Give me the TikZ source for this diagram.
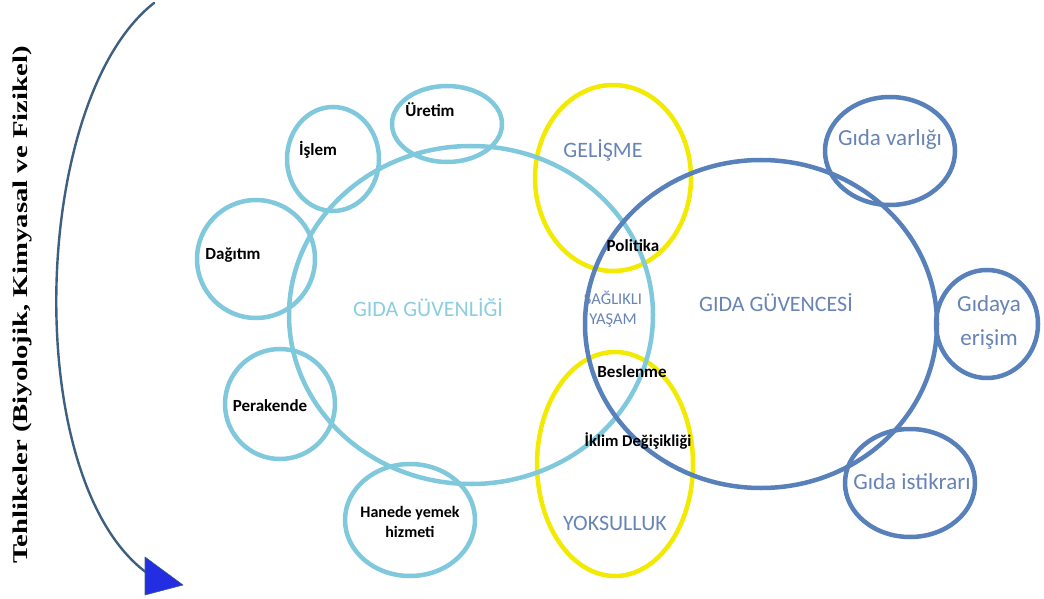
\documentclass[tikz,border=0pt]{standalone}
\usepackage{fontspec}
\setmainfont{Carlito}
\newfontfamily\serifb{Liberation Serif}
\usetikzlibrary{shapes.geometric}
\definecolor{lb}{RGB}{128,200,220}
\definecolor{db}{RGB}{88,128,186}
\definecolor{yl}{RGB}{242,234,0}
\definecolor{tb}{RGB}{104,132,182}
\definecolor{tl}{RGB}{140,205,222}
\definecolor{ab}{RGB}{62,96,128}
\definecolor{ah}{RGB}{35,45,225}
\begin{document}
\begin{tikzpicture}[x=1pt,y=-1pt,
  ring/.style={ellipse, draw, line width=4.5pt, inner sep=0pt, minimum width=#1},
  lbring/.style={ring=#1, draw=lb},
  dbring/.style={ring=#1, draw=db},
  ylring/.style={ring=#1, draw=yl},
  lab/.style={font=\fontsize{17}{20}\selectfont\bfseries, text=black, align=center, inner sep=0pt},
  big/.style={font=\fontsize{22}{24}\selectfont, text=tb, align=center, inner sep=0pt},
  sub/.style={font=\fontsize{23}{34}\selectfont, text=tb, align=center, inner sep=0pt}]
\useasboundingbox (0,0) rectangle (1044,599);
\fill[white] (0,0) rectangle (1044,599);
% yellow ellipses
\node[ylring=156pt, minimum height=186pt] (gel) at (613,178) {};
\node[ylring=156pt, minimum height=224pt] (yok) at (615,464) {};
% light blue
\node[lbring=364pt, minimum height=338pt] (guv) at (471,315) {};
\node[lbring=110pt, minimum height=76pt] (ure) at (447,124) {};
\node[lbring=92pt, minimum height=104pt] (isl) at (333,159) {};
\node[lbring=118pt, minimum height=118pt] (dag) at (256,259) {};
\node[lbring=110pt, minimum height=110pt] (per) at (280,404) {};
\node[lbring=130pt, minimum height=112pt] (han) at (410,520) {};
% dark blue
\node[dbring=352pt, minimum height=328pt] (gvc) at (761,324) {};
\node[dbring=130pt, minimum height=108pt] (var) at (890,151) {};
\node[dbring=102pt, minimum height=108pt] (eri) at (987,324) {};
\node[dbring=130pt, minimum height=108pt] (ist) at (910,483) {};
% labels
\node[lab] (ture) at (430,110) {Üretim};
\node[lab] (tisl) at (318,150) {İşlem};
\node[lab] (tdag) at (233,255) {Dağıtım};
\node[lab] (tper) at (270,406) {Perakende};
\node[lab, font=\fontsize{16}{20}\selectfont\bfseries] (than) at (410,522) {Hanede yemek\\hizmeti};
\node[lab] (tpol) at (633,246) {Politika};
\node[lab] (tbes) at (632,372) {Beslenme};
\node[lab, font=\fontsize{16.5}{19}\selectfont\bfseries] (tikl) at (638,441) {İklim Değişikliği};
\node[big, text=tl] (tguv) at (428,308) {GIDA GÜVENLİĞİ};
\node[big] (tgvc) at (776,303) {GIDA GÜVENCESİ};
\node[big] (tgel) at (603,150) {GELİŞME};
\node[big] (tyok) at (615,523) {YOKSULLUK};
\node[big, font=\fontsize{16.5}{20}\selectfont] (tsag) at (613,309) {SAĞLIKLI\\YAŞAM};
\node[sub] (tvar) at (890,139) {Gıda varlığı};
\node[sub] (teri) at (989,322) {Gıdaya\\erişim};
\node[sub] (tist) at (912,482) {Gıda istikrarı};
% hazard arrow
\node[rotate=90, font=\serifb\bfseries\fontsize{21}{24}\selectfont, inner sep=0pt] (haz) at (22,305)
  {\scalebox{1.37}[1]{Tehlikeler (Biyolojik, Kimyasal ve Fizikel)}};
\coordinate (atop) at (154,3);
\coordinate (abot) at (147,573);
\draw[ab, line width=2.4pt, line cap=round] (atop) .. controls (30,100) and (20,480) .. (abot);
\fill[ah, draw=ab, line width=0.6pt, line join=round] (145,557) -- (183,585) -- (145,595) -- cycle;
\end{tikzpicture}
\end{document}
